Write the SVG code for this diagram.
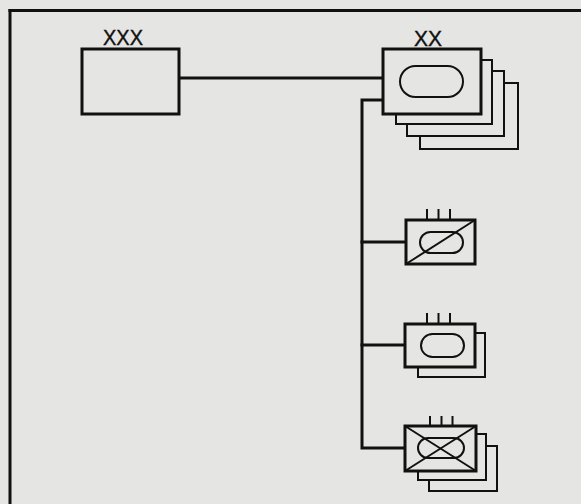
<svg xmlns="http://www.w3.org/2000/svg" width="581" height="504" viewBox="0 0 581 504">
  <style>
    .bg { fill: #e5e5e3; }
    .ln { fill: none; stroke: #111; stroke-width: 3; stroke-linecap: square; }
    .box { fill: #e5e5e3; stroke: #111; stroke-width: 3; }
    .card { fill: #e5e5e3; stroke: #111; stroke-width: 2; }
    .oval { fill: none; stroke: #111; stroke-width: 2; }
    .mark { fill: none; stroke: #111; stroke-width: 2; }
    .lbl { font-family: "Liberation Sans", Arial, sans-serif; font-size: 22px; fill: #111; stroke: #111; stroke-width: 0.4; }
  </style>
  <rect class="bg" x="0" y="0" width="581" height="504"/>

  <g id="frame">
    <line class="ln" x1="10" y1="10.5" x2="581" y2="10.5"/>
    <line class="ln" x1="10" y1="10.5" x2="10" y2="504"/>
  </g>

  <g id="connectors">
    <line class="ln" x1="179" y1="78" x2="383" y2="78"/>
    <polyline class="ln" points="383,100 362,100 362,448 405,448"/>
    <line class="ln" x1="362" y1="242" x2="406" y2="242"/>
    <line class="ln" x1="362" y1="345" x2="405" y2="345"/>
  </g>

  <g id="corps">
    <rect class="box" x="82" y="49" width="97" height="65"/>
    <text class="lbl" x="103" y="45" textLength="40" lengthAdjust="spacingAndGlyphs">XXX</text>
  </g>

  <g id="division">
    <rect class="card" x="420" y="83" width="98" height="66"/>
    <rect class="card" x="407" y="71" width="97" height="65"/>
    <rect class="card" x="396" y="60" width="96" height="64"/>
    <rect class="box" x="383" y="49" width="98" height="65"/>
    <rect class="oval" x="400" y="66" width="63" height="31" rx="15.5" ry="15.5"/>
    <text class="lbl" x="414" y="46" textLength="28" lengthAdjust="spacingAndGlyphs">XX</text>
  </g>

  <g id="brigade1">
    <line class="mark" x1="427" y1="209" x2="427" y2="220"/>
    <line class="mark" x1="438.5" y1="209" x2="438.5" y2="220"/>
    <line class="mark" x1="450" y1="209" x2="450" y2="220"/>
    <rect class="box" x="406" y="220" width="69" height="44"/>
    <rect class="oval" x="420" y="232" width="43" height="21" rx="10.5" ry="10.5"/>
    <line class="mark" x1="406" y1="264" x2="475" y2="220"/>
  </g>

  <g id="brigade2">
    <line class="mark" x1="427" y1="313" x2="427" y2="324"/>
    <line class="mark" x1="438.5" y1="313" x2="438.5" y2="324"/>
    <line class="mark" x1="450" y1="313" x2="450" y2="324"/>
    <rect class="card" x="418" y="333" width="67" height="44"/>
    <rect class="box" x="405" y="324" width="70" height="43"/>
    <rect class="oval" x="421" y="334" width="43" height="23" rx="11.5" ry="11.5"/>
  </g>

  <g id="brigade3">
    <line class="mark" x1="430" y1="416" x2="430" y2="426"/>
    <line class="mark" x1="441.5" y1="416" x2="441.5" y2="426"/>
    <line class="mark" x1="452.5" y1="416" x2="452.5" y2="426"/>
    <rect class="card" x="429" y="446" width="68" height="45"/>
    <rect class="card" x="418" y="434" width="68" height="46"/>
    <rect class="box" x="405" y="426" width="71" height="45"/>
    <rect class="oval" x="418" y="438" width="46" height="20" rx="10" ry="10"/>
    <line class="mark" x1="405" y1="426" x2="476" y2="471"/>
    <line class="mark" x1="405" y1="471" x2="476" y2="426"/>
  </g>
</svg>
